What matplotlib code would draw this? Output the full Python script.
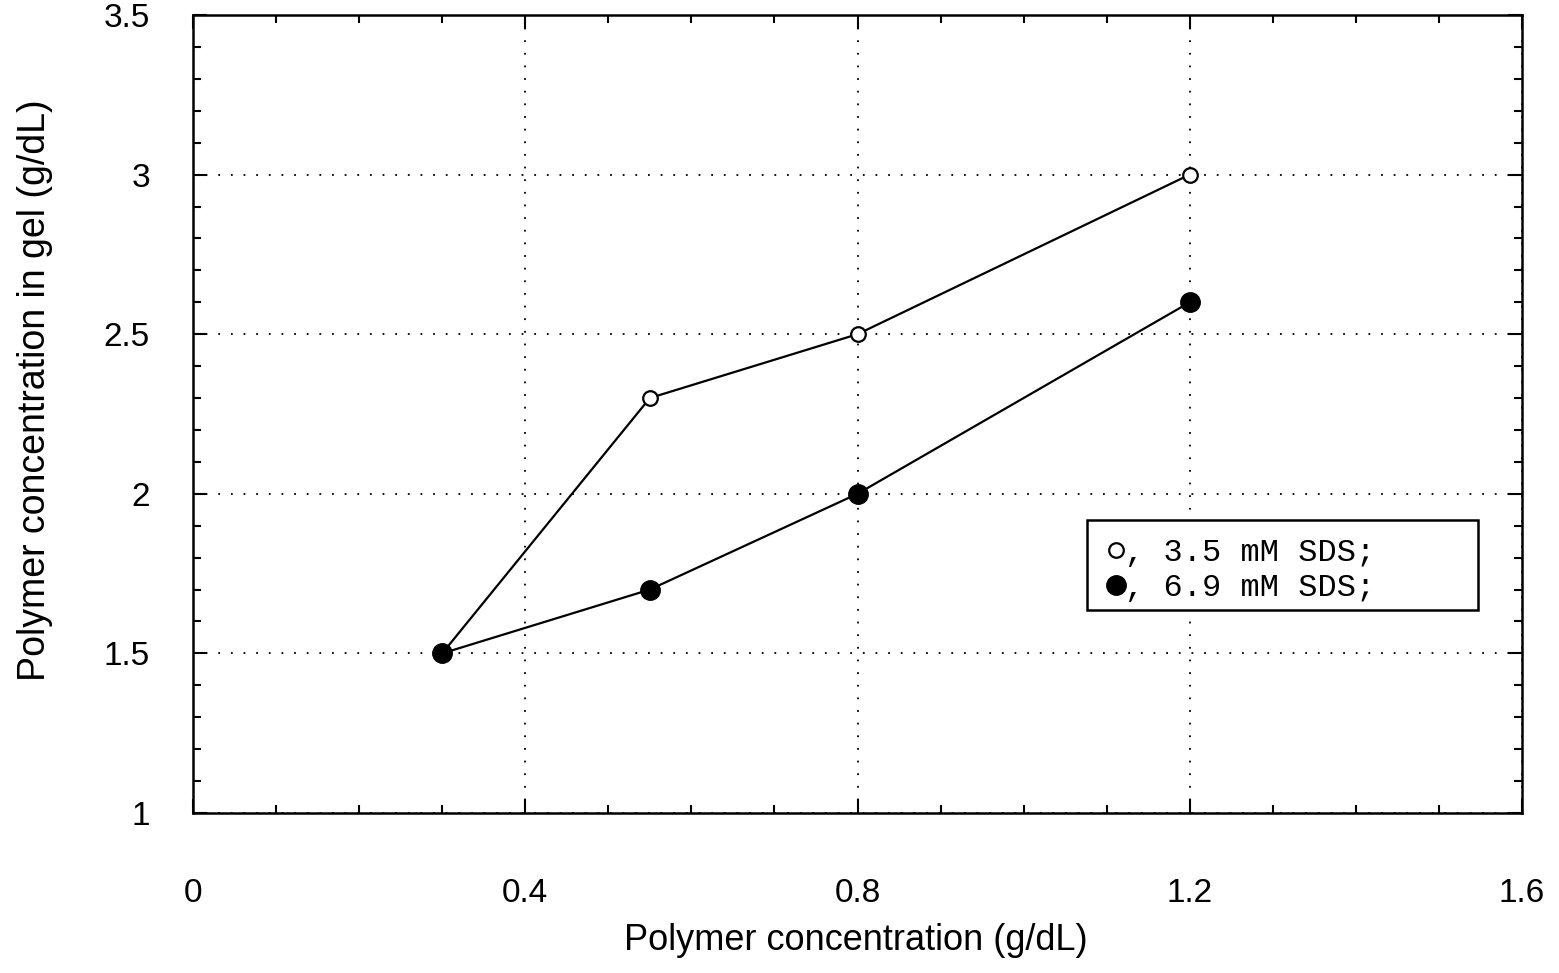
import matplotlib
matplotlib.use("Agg")
import matplotlib.pyplot as plt
from matplotlib.ticker import MultipleLocator
from matplotlib.patches import Rectangle

# data
x_conc = [0.3, 0.55, 0.8, 1.2]
gel_35 = [1.5, 2.3, 2.5, 3.0]
gel_69 = [1.5, 1.7, 2.0, 2.6]
x_ticks = [0, 0.4, 0.8, 1.2, 1.6]
x_ticklabels = ['0', '0.4', '0.8', '1.2', '1.6']
y_ticks = [1, 1.5, 2, 2.5, 3, 3.5]
y_ticklabels = ['1', '1.5', '2', '2.5', '3', '3.5']
labels = [', 3.5 mM SDS;', ', 6.9 mM SDS;']

plt.rcParams['font.family'] = ['Liberation Sans', 'DejaVu Sans']

fig = plt.figure(figsize=(15.59, 9.73), dpi=100)
ax = fig.add_axes([193/1559, 1 - 813/973, (1522-193)/1559, (813-15)/973])

# lines and markers
ax.plot(x_conc, gel_35, color='black', lw=1.6, marker='o', ms=10.5,
        mfc='white', mec='black', mew=1.6, zorder=3)
ax.plot(x_conc, gel_69, color='black', lw=1.6, marker='o', ms=14,
        mfc='black', mec='black', zorder=4)

ax.set_xlim(0, 1.6)
ax.set_ylim(1, 3.5)
ax.set_xticks(x_ticks)
ax.set_xticklabels(x_ticklabels)
ax.set_yticks(y_ticks)
ax.set_yticklabels(y_ticklabels)
ax.xaxis.set_minor_locator(MultipleLocator(0.1))
ax.yaxis.set_minor_locator(MultipleLocator(0.1))
ax.tick_params(which='both', direction='in', top=True, right=True,
               width=1.5, color='black')
ax.tick_params(which='major', length=10, labelsize=24)
ax.tick_params(which='minor', length=6)
ax.tick_params(axis='x', which='major', pad=47)
ax.tick_params(axis='y', which='major', pad=31)

# sparse dotted grid lines
ax.grid(True, which='major', linestyle=(0, (1, 6)), color='black', lw=1.3)

for s in ax.spines.values():
    s.set_linewidth(1.8)

ax.set_xlabel('Polymer concentration (g/dL)', fontsize=26, va='top')
ax.xaxis.set_label_coords(0.499, -0.138)
ax.set_ylabel('Polymer concentration in gel (g/dL)', fontsize=27)
ax.yaxis.set_label_coords(-0.105, 0.53)

# legend box drawn as a rectangle, legend entries inside it
ax.add_patch(Rectangle((0.673, 0.255), 0.294, 0.112, transform=ax.transAxes,
                       fill=True, facecolor='white', edgecolor='black',
                       lw=1.8, zorder=5))
leg = ax.legend(labels, loc='upper left', bbox_to_anchor=(0.687, 0.3445),
                prop={'family': ['Liberation Mono', 'DejaVu Sans Mono'], 'size': 23},
                handlelength=0.6, handletextpad=0.0, labelspacing=0.16,
                borderpad=0, borderaxespad=0, frameon=False, markerscale=1.0)
for h in leg.legend_handles:
    h.set_linestyle('none')
leg.set_zorder(6)

fig.savefig('out.png', dpi=100)
